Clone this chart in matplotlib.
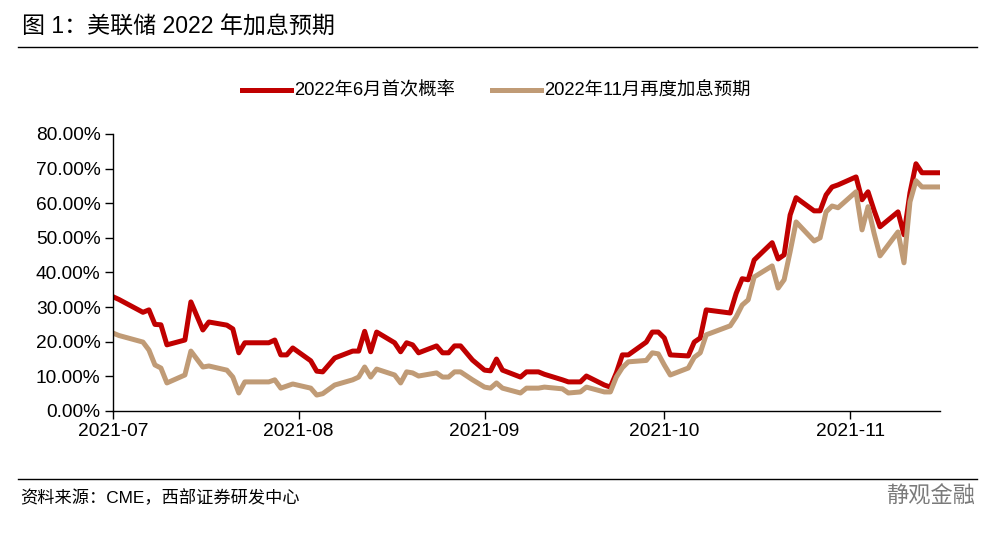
import pandas as pd
import matplotlib
matplotlib.use('Agg')
import matplotlib.pyplot as plt
import matplotlib.dates as mdates
from matplotlib.ticker import PercentFormatter
from matplotlib.lines import Line2D

plt.rcParams['font.family'] = ['Liberation Sans', 'Noto Sans CJK SC', 'DejaVu Sans']

# values (percent)
dates = ['2021-07-01', '2021-07-02', '2021-07-06', '2021-07-07', '2021-07-08', '2021-07-09',
         '2021-07-10', '2021-07-13', '2021-07-14', '2021-07-16', '2021-07-17', '2021-07-20',
         '2021-07-21', '2021-07-22', '2021-07-23', '2021-07-27', '2021-07-28', '2021-07-29',
         '2021-07-30', '2021-07-31', '2021-08-03', '2021-08-04', '2021-08-05', '2021-08-07',
         '2021-08-10', '2021-08-11', '2021-08-12', '2021-08-13', '2021-08-14', '2021-08-17',
         '2021-08-18', '2021-08-19', '2021-08-20', '2021-08-21', '2021-08-24', '2021-08-25',
         '2021-08-26', '2021-08-27', '2021-08-28', '2021-08-30', '2021-09-01', '2021-09-02',
         '2021-09-03', '2021-09-04', '2021-09-07', '2021-09-08', '2021-09-10', '2021-09-11',
         '2021-09-14', '2021-09-15', '2021-09-17', '2021-09-18', '2021-09-21', '2021-09-22',
         '2021-09-23', '2021-09-24', '2021-09-25', '2021-09-28', '2021-09-29', '2021-09-30',
         '2021-10-01', '2021-10-02', '2021-10-05', '2021-10-06', '2021-10-07', '2021-10-08',
         '2021-10-12', '2021-10-13', '2021-10-14', '2021-10-15', '2021-10-16', '2021-10-19',
         '2021-10-20', '2021-10-21', '2021-10-22', '2021-10-23', '2021-10-26', '2021-10-27',
         '2021-10-28', '2021-10-29', '2021-10-30', '2021-11-02', '2021-11-03', '2021-11-04',
         '2021-11-05', '2021-11-06', '2021-11-09', '2021-11-10', '2021-11-11', '2021-11-12',
         '2021-11-13', '2021-11-16']

june_first = [33.0, 32.2, 28.5, 29.2, 25.0, 24.9, 19.1, 20.5, 31.5, 23.4, 25.7, 24.8,
              23.7, 16.8, 19.7, 19.7, 20.5, 16.2, 16.2, 18.2, 14.5, 11.5, 11.3, 15.3,
              17.3, 17.3, 23.0, 17.1, 22.8, 19.7, 17.1, 19.7, 19.1, 16.8, 18.8, 16.8,
              16.8, 18.8, 18.8, 14.7, 11.8, 11.6, 15.0, 11.8, 9.8, 11.3, 11.3, 10.6,
              9.0, 8.4, 8.4, 10.1, 7.5, 6.9, 11.0, 16.2, 16.2, 19.9, 22.8, 22.8,
              21.1, 16.2, 15.9, 19.9, 21.1, 29.2, 28.3, 34.0, 38.2, 37.9, 43.6, 48.6,
              43.9, 45.1, 56.6, 61.6, 57.8, 57.8, 62.4, 64.7, 65.3, 67.6, 61.0, 63.3,
              58.0, 53.2, 57.5, 50.9, 63.0, 71.4, 68.8, 68.8]

nov_hike = [22.5, 21.8, 19.9, 17.6, 13.3, 12.4, 8.1, 10.4, 17.3, 12.7, 13.0, 11.8,
            9.8, 5.2, 8.4, 8.4, 9.0, 6.6, 7.2, 7.8, 6.6, 4.6, 5.0, 7.5,
            9.0, 9.8, 12.7, 9.8, 12.1, 10.4, 8.1, 11.3, 11.0, 10.1, 11.0, 9.8,
            9.8, 11.3, 11.3, 9.0, 6.9, 6.6, 8.1, 6.6, 5.2, 6.6, 6.6, 6.9,
            6.4, 5.2, 5.5, 6.9, 5.5, 5.5, 9.8, 12.5, 14.2, 14.6, 16.8, 16.5,
            13.3, 10.4, 12.4, 15.5, 16.8, 22.0, 24.6, 27.2, 30.6, 32.1, 38.7, 41.9,
            35.5, 37.9, 46.0, 54.6, 49.1, 50.0, 57.5, 59.2, 58.7, 63.3, 52.3, 59.0,
            51.4, 44.8, 51.7, 42.8, 60.4, 66.5, 64.7, 64.7]

labels = ['2022年6月首次概率', '2022年11月再度加息预期']

df = pd.DataFrame({'date': pd.to_datetime(dates),
                   'june': [v / 100 for v in june_first],
                   'nov': [v / 100 for v in nov_hike]})

fig = plt.figure(figsize=(10.07, 5.40), dpi=100)
ax = fig.add_axes([0.1122, 0.2389, 0.8212, 0.513])

ax.plot(df['date'], df['june'], color='#C00000', lw=3.6, label=labels[0])
ax.plot(df['date'], df['nov'], color='#C09B76', lw=3.6, label=labels[1])

ax.set_ylim(0, 0.8)
ax.set_yticks([i / 10 for i in range(9)])
ax.yaxis.set_major_formatter(PercentFormatter(1.0, decimals=2))
ax.set_xlim(pd.Timestamp('2021-07-01'), pd.Timestamp('2021-11-16'))
ax.xaxis.set_major_locator(mdates.MonthLocator())
ax.xaxis.set_major_formatter(mdates.DateFormatter('%Y-%m'))

for s in ['top', 'right']:
    ax.spines[s].set_visible(False)
ax.spines['left'].set_linewidth(1.0)
ax.spines['bottom'].set_linewidth(1.0)
ax.tick_params(axis='both', direction='out', length=6, width=1.0,
               labelsize=13.8, colors='black')
ax.tick_params(axis='y', pad=3)
ax.tick_params(axis='x', pad=3)

fig.legend(loc='center', bbox_to_anchor=(0.4925, 0.831), ncol=2, frameon=False,
           fontsize=13.2, handlelength=2.7, handletextpad=0.15, columnspacing=2.0)

# header / footer
fig.text(0.022, 0.950, '图 1：美联储 2022 年加息预期', fontsize=16.6, va='center', ha='left')
fig.add_artist(Line2D([0.018, 0.970], [0.913, 0.913], color='black', lw=1.0,
                      transform=fig.transFigure))
fig.add_artist(Line2D([0.018, 0.970], [0.113, 0.113], color='black', lw=1.0,
                      transform=fig.transFigure))
fig.text(0.020, 0.079, '资料来源：CME，西部证券研发中心', fontsize=12.4, va='center', ha='left')
fig.text(0.968, 0.079, '静观金融', fontsize=16, va='center', ha='right', color='#7a7a7a')

fig.savefig('out.png', dpi=100)
